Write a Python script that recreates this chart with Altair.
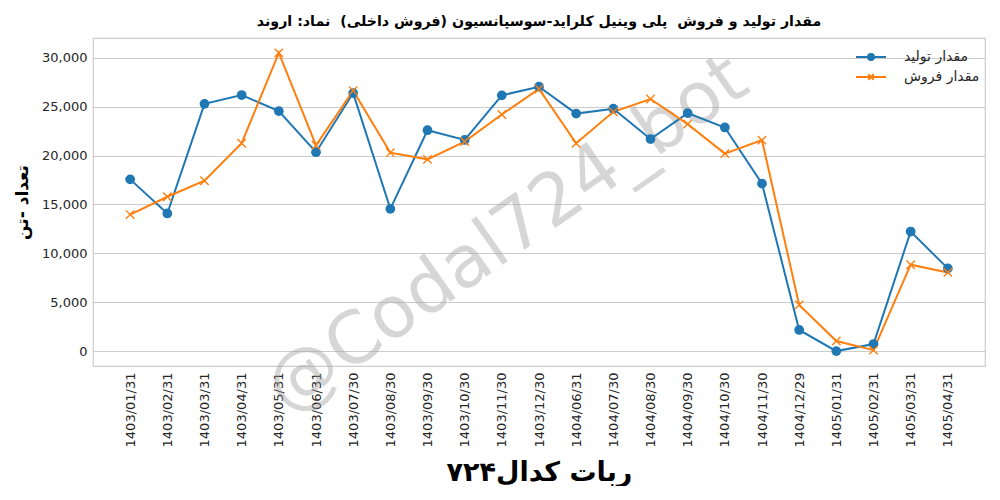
import altair as alt
import pandas as pd

dates = ['1403/01/31', '1403/02/31', '1403/03/31', '1403/04/31', '1403/05/31',
         '1403/06/31', '1403/07/30', '1403/08/30', '1403/09/30', '1403/10/30',
         '1403/11/30', '1403/12/30', '1404/06/31', '1404/07/30', '1404/08/30',
         '1404/09/30', '1404/10/30', '1404/11/30', '1404/12/29', '1405/01/31',
         '1405/02/31', '1405/03/31', '1405/04/31']
production = [17570, 14080, 25300, 26200, 24550, 20350, 26400, 14550, 22600, 21600,
              26170, 27050, 24300, 24800, 21700, 24350, 22880, 17130, 2160, 0,
              720, 12230, 8460]
sales = [13970, 15790, 17430, 21270, 30510, 21060, 26640, 20300, 19620, 21440,
         24210, 26820, 21270, 24480, 25790, 23220, 20210, 21580, 4730, 1030,
         100, 8840, 8050]

prod_name = 'مقدار تولید'
sales_name = 'مقدار فروش'
series = [prod_name, sales_name]
colors = ['#1f77b4', '#ff7f0e']

df = pd.DataFrame({'date': dates * 2,
                   'value': production + sales,
                   'series': [prod_name] * len(dates) + [sales_name] * len(dates)})

font = 'DejaVu Sans'
x_enc = alt.X('date:O', sort=dates, scale=alt.Scale(type='point', padding=1.1),
              axis=alt.Axis(title='ربات کدال۷۲۴', titleFont=font, titleFontSize=27,
                            titleFontWeight='bold', titleColor='black', titlePadding=13,
                            labelAngle=270, labelFont=font, labelFontSize=13,
                            labelColor='#262626', labelPadding=6, ticks=False,
                            domain=False, gridColor='#cccccc'))
y_enc = alt.Y('value:Q', scale=alt.Scale(domain=[-1525, 32035], nice=False, zero=False),
              axis=alt.Axis(title='تعداد -تن', titleFont=font, titleFontSize=17,
                            titleFontWeight='bold', titleColor='black', titlePadding=10,
                            values=[0, 5000, 10000, 15000, 20000, 25000, 30000],
                            format=',d', labelFont=font, labelFontSize=13,
                            labelColor='#262626', labelPadding=6, ticks=False,
                            domain=False, gridColor='#cccccc'))
color_enc = alt.Color('series:N', scale=alt.Scale(domain=series, range=colors), legend=None)

base = alt.Chart(df).encode(x=x_enc, y=y_enc, color=color_enc)

lines = base.mark_line(strokeWidth=2)
dots = base.transform_filter(alt.datum.series == prod_name).mark_point(
    shape='circle', filled=True, size=95, opacity=1)
crosses = base.transform_filter(alt.datum.series == sales_name).mark_point(
    shape='M-1,-1L1,1M-1,1L1,-1', filled=False, size=70, strokeWidth=1.4, opacity=1)

# legend only: symbols with line segment through the marker
legend_paths = ['M-3,0H3M0.6,0A0.6,0.6,0,1,1,-0.6,0A0.6,0.6,0,1,1,0.6,0',
                'M-3,0H3M-0.55,-0.55L0.55,0.55M-0.55,0.55L0.55,-0.55']
leg = alt.Legend(title=None, orient='none', legendX=767, legendY=8)
legend_layer = alt.Chart(df).transform_filter('false').mark_point(filled=True).encode(
    x=x_enc, y=y_enc,
    fill=alt.Fill('series:N', scale=alt.Scale(domain=series, range=colors), legend=leg),
    stroke=alt.Stroke('series:N', scale=alt.Scale(domain=series, range=colors), legend=leg),
    shape=alt.Shape('series:N', scale=alt.Scale(domain=series, range=legend_paths), legend=leg))

watermark = alt.Chart(pd.DataFrame({'t': ['@Codal724_bot']})).mark_text(
    angle=325, fontSize=72, font=font, color='#a0a0a0', opacity=0.42,
    align='center', baseline='middle').encode(
    text='t:N', x=alt.value(414), y=alt.value(197))

title_text = 'مقدار تولید و فروش\u00a0 پلی وینیل کلراید-سوسپانسیون (فروش داخلی)\u00a0 نماد: اروند'

chart = alt.layer(watermark, lines, dots, crosses, legend_layer).resolve_scale(
    color='independent').properties(
    width=892, height=328,
    title=alt.Title(title_text, font=font, fontSize=14.2, fontWeight='bold',
                    color='black', offset=8.5, frame='group', anchor='middle'),
    padding={'left': 5, 'top': 7, 'right': 5, 'bottom': 0}
).configure_view(stroke='#cccccc', strokeWidth=1.2).configure_legend(
    labelFont=font, labelFontSize=14, labelColor='#262626', symbolSize=100,
    symbolStrokeWidth=2, symbolOpacity=1, padding=4, rowPadding=6,
    labelOffset=26
)

chart.save('out.html', embed_options={'renderer': 'svg', 'actions': False})
